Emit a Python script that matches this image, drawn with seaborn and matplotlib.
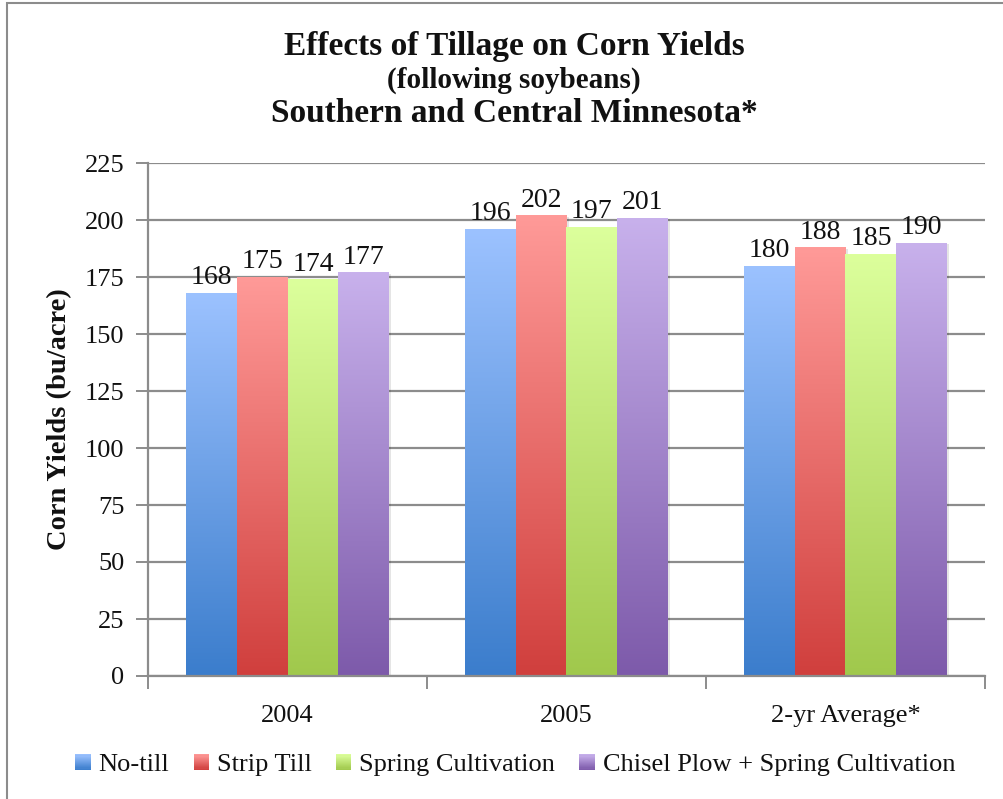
import numpy as np
import pandas as pd
import seaborn as sns
import matplotlib
matplotlib.use("Agg")
import matplotlib.pyplot as plt
from matplotlib.patches import Rectangle, Patch
from matplotlib.legend_handler import HandlerBase
from matplotlib.colors import to_rgb

# ---------------- data ----------------
periods = ["2004", "2005", "2-yr Average*"]
methods = ["No-till", "Strip Till", "Spring Cultivation", "Chisel Plow + Spring Cultivation"]
no_till = [168, 196, 180]
strip_till = [175, 202, 188]
spring_cult = [174, 197, 185]
chisel_spring = [177, 201, 190]
y_ticks = [0, 25, 50, 75, 100, 125, 150, 175, 200, 225]

title_main = "Effects of Tillage on Corn Yields"
title_sub = "(following soybeans)"
title_region = "Southern and Central Minnesota*"
y_label = "Corn Yields (bu/acre)"

# gradient colours (top, bottom)
grad_top = ["#9cc2ff", "#ff9a98", "#dcff9c", "#c8b1ec"]
grad_bot = ["#3b7dcc", "#d03f3d", "#a0c84c", "#7d5aaa"]

series = [no_till, strip_till, spring_cult, chisel_spring]
df = pd.DataFrame({
    "period": np.repeat([periods], len(methods), axis=0).ravel(),
    "method": np.repeat(methods, len(periods)),
    "yield": np.concatenate(series),
})

sns.set_theme(style="white")
plt.rcParams["font.family"] = ["Liberation Serif", "DejaVu Serif"]

W, H = 1004, 799
fig = plt.figure(figsize=(W / 100, H / 100), dpi=100)
ax = fig.add_axes([148 / W, 1 - 676 / H, (985 - 148) / W, (676 - 163) / H])

palette = dict(zip(methods, grad_bot))
sns.barplot(data=df, x="period", y="yield", hue="method", order=periods,
            hue_order=methods, palette=palette, width=4 / 5.5, gap=0,
            saturation=1, ax=ax, legend=False, errorbar=None)

ax.set_xlim(-0.5, 2.5)
ax.set_ylim(0, 225)

# gradient fill of each bar (light at its own top, dark at bottom)
def gradient(top, bot, n=256):
    t = np.linspace(0, 1, n)[:, None]
    a = np.array(to_rgb(bot))
    b = np.array(to_rgb(top))
    return (a + (b - a) * t)[:, None, :]

for ci, cont in enumerate(ax.containers):
    g = gradient(grad_top[ci], grad_bot[ci])
    for bar in cont:
        x0, w, h = bar.get_x(), bar.get_width(), bar.get_height()
        # soft shadow
        ax.add_patch(Rectangle((x0 + 0.008, 0), w, h - 0.6, facecolor="#000000",
                               alpha=0.10, edgecolor="none", zorder=1.5))
        im = ax.imshow(g, extent=[x0, x0 + w, 0, h], origin="lower",
                       aspect="auto", zorder=2.5, interpolation="bilinear")
        bar.set_facecolor("none")
        bar.set_edgecolor("none")
        im.set_clip_path(bar)
    ax.bar_label(cont, fmt="%d", padding=2, fontsize=20, color="#111111")

ax.set_xlim(-0.5, 2.5)
ax.set_ylim(0, 225)

# axes styling
grid_c = "#8c8c8c"
ax.set_yticks(y_ticks)
ax.yaxis.grid(True, color=grid_c, linewidth=1.6)
ax.set_axisbelow(True)
for s in ["top", "right"]:
    ax.spines[s].set_visible(False)
for s in ["left", "bottom"]:
    ax.spines[s].set_color(grid_c)
    ax.spines[s].set_linewidth(1.6)

ax.tick_params(axis="y", which="major", length=9, width=1.4, color=grid_c,
               labelsize=19, pad=8, labelcolor="#111111", left=True)
ax.set_xticks(range(len(periods)))
ax.set_xticklabels(periods)
ax.set_xticks([-0.5, 0.5, 1.5, 2.5], minor=True)
ax.tick_params(axis="x", which="major", length=0, labelsize=19, pad=21,
               labelcolor="#111111")
ax.tick_params(axis="x", which="minor", length=9, width=1.4, color=grid_c,
               bottom=True)
ax.set_xlabel("")
ax.set_ylabel(y_label, fontsize=20.5, fontweight="bold", labelpad=9, color="#111111")

# titles
fig.text(0.512, 1 - 47 / H, title_main, ha="center", va="center",
         fontsize=24, fontweight="bold", color="#111111")
fig.text(0.512, 1 - 80 / H, title_sub, ha="center", va="center",
         fontsize=21, fontweight="bold", color="#111111")
fig.text(0.512, 1 - 114 / H, title_region, ha="center", va="center",
         fontsize=24, fontweight="bold", color="#111111")

# legend with gradient squares
class GradHandler(HandlerBase):
    def __init__(self, top, bot):
        super().__init__()
        self.top, self.bot = top, bot

    def create_artists(self, legend, orig_handle, xdescent, ydescent, width,
                       height, fontsize, trans):
        s = 11.0
        x0 = -xdescent + width - s
        y0 = -ydescent + (height - s) / 2
        n = 14
        a = np.array(to_rgb(self.bot))
        b = np.array(to_rgb(self.top))
        arts = []
        for i in range(n):
            c = a + (b - a) * (i + 0.5) / n
            arts.append(Rectangle((x0, y0 + i * s / n), s, s / n + 0.2,
                                  facecolor=c, edgecolor="none", transform=trans))
        return arts

handles = [Patch(label=m) for m in methods]
hmap = {h: GradHandler(t, b) for h, t, b in zip(handles, grad_top, grad_bot)}
fig.legend(handles=handles, labels=methods, handler_map=hmap,
           loc="center", bbox_to_anchor=(515 / W, 1 - 765 / H), ncol=4,
           frameon=False, fontsize=19, handlelength=0.6, handleheight=0.6,
           handletextpad=0.3, columnspacing=0.9, labelcolor="#111111")

# outer chart frame (left and top edges visible)
fig.patches.append(Rectangle((7 / W, -0.2), 1.5, 0.2 + 1 - 3 / H,
                             transform=fig.transFigure, fill=False,
                             edgecolor="#8c8c8c", linewidth=1.5))

fig.savefig("out.png", dpi=100, facecolor="white")
